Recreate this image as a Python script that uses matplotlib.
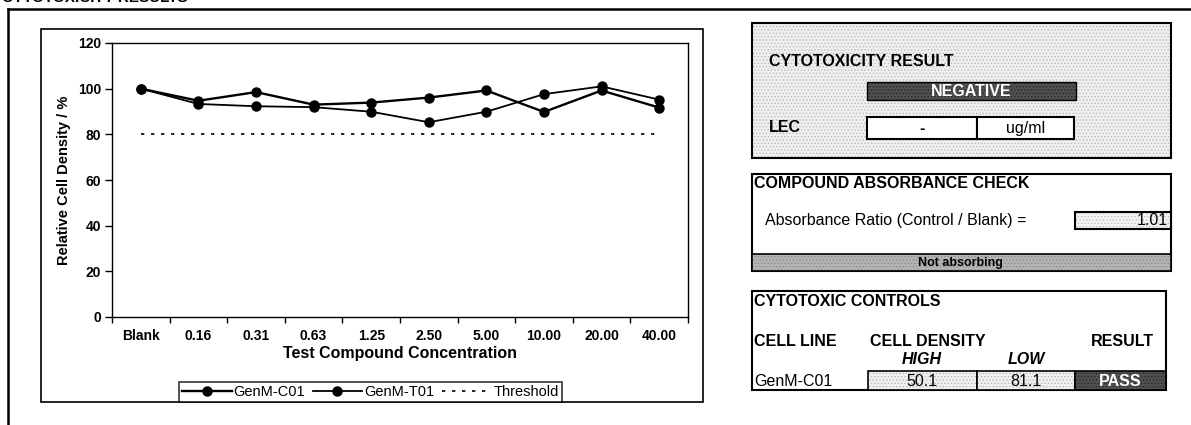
import numpy as np
import matplotlib
matplotlib.use("Agg")
import matplotlib.pyplot as plt
from matplotlib.patches import Rectangle
from matplotlib.lines import Line2D

plt.rcParams['font.family'] = ['Liberation Sans', 'DejaVu Sans']
plt.rcParams['hatch.linewidth'] = 0.6

# dose response data (relative cell density, %)
conc_labels = ['Blank', '0.16', '0.31', '0.63', '1.25', '2.50',
               '5.00', '10.00', '20.00', '40.00']
genm_c01 = [100, 94.7, 98.5, 93.0, 93.9, 96.1, 99.2, 89.8, 99.2, 91.7]
genm_t01 = [100, 93.3, 92.3, 91.9, 89.9, 85.3, 89.9, 97.6, 101.0, 95.2]
threshold = [80] * len(conc_labels)

# report fields
result_call = 'NEGATIVE'
lec_value = '-'
lec_unit = 'ug/ml'
abs_ratio = 1.01
abs_call = 'Not absorbing'
control_line = 'GenM-C01'
control_high = 50.1
control_low = 81.1
control_call = 'PASS'

W, H = 1191, 425
fig = plt.figure(figsize=(W / 100, H / 100), dpi=100)


def fx(x):
    return x / W


def fy(y):
    return 1 - y / H


def box(x0, y0, x1, y1, face='white', dots=None, lw=1.2, edge='black'):
    # stippled cells are a flat tone plus a dot hatch
    xy, w, h = (fx(x0), fy(y1)), fx(x1 - x0), (y1 - y0) / H
    if face:
        fig.patches.append(Rectangle(xy, w, h, transform=fig.transFigure,
                                     facecolor=face, edgecolor='none', lw=0))
    if dots:
        fig.patches.append(Rectangle(xy, w, h, transform=fig.transFigure,
                                     fill=False, hatch='.....', edgecolor=dots, lw=0))
    if lw:
        fig.patches.append(Rectangle(xy, w, h, transform=fig.transFigure,
                                     fill=False, edgecolor=edge, lw=lw))


def txt(x, y, s, ha='left', size=11.5, weight='normal', color='black', style='normal'):
    fig.text(fx(x), fy(y), s, ha=ha, va='center', fontsize=size,
             fontweight=weight, color=color, fontstyle=style)


# page frame and section title
fig.add_artist(Line2D([fx(8), fx(8)], [fy(9), 0], color='black', lw=1.8))
fig.add_artist(Line2D([fx(8), 1], [fy(9), fy(9)], color='black', lw=1.8))
txt(2, -2, 'CYTOTOXICITY RESULTS', size=11, weight='bold')

# chart area border
box(41, 29, 703, 402, face=None, lw=1.2)

ax = fig.add_axes([fx(112), fy(317), fx(688 - 112), (317 - 43) / H])
x = np.arange(len(conc_labels))
ax.plot(x, genm_c01, color='black', lw=1.7, marker='o', ms=6.5, label='GenM-C01')
ax.plot(x, genm_t01, color='black', lw=1.3, marker='o', ms=6.5, label='GenM-T01')
ax.plot(x, threshold, color='black', lw=1.2, ls=(0, (2, 4)), label='Threshold')

ax.set_xlim(-0.5, len(conc_labels) - 0.5)
ax.set_ylim(0, 120)
ax.set_yticks(np.arange(0, 121, 20))
ax.set_xticks(np.arange(-0.5, len(conc_labels)), labels=[])
ax.set_xticks(x, labels=conc_labels, minor=True)
ax.tick_params(axis='x', which='major', direction='out', length=4, width=1)
ax.tick_params(axis='x', which='minor', length=0, pad=9)
ax.tick_params(axis='y', direction='out', length=5, width=1, pad=3)
for lab in ax.get_xticklabels(minor=True) + ax.get_yticklabels():
    lab.set_fontsize(10)
    lab.set_fontweight('bold')
for sp in ax.spines.values():
    sp.set_linewidth(1)
ax.set_xlabel('Test Compound Concentration', fontsize=11.5, fontweight='bold', labelpad=2)
ax.set_ylabel('Relative Cell Density / %', fontsize=10.5, fontweight='bold', labelpad=5)

leg = fig.legend(loc='lower left', bbox_to_anchor=(fx(179), fy(402)), ncol=3,
                 fontsize=10.5, frameon=True, fancybox=False, edgecolor='black',
                 handlelength=3.4, handletextpad=0.15, columnspacing=0.5,
                 borderpad=0.2, borderaxespad=0)
leg.get_frame().set_linewidth(1.2)

# cytotoxicity result panel
box(752, 23, 1171, 158, face='#f0f0f0', dots='#b8b8b8', lw=1.5)
txt(769, 61, 'CYTOTOXICITY RESULT', weight='bold')
box(867, 82, 1076, 100, face='#505050', dots='#2a2a2a', lw=1)
txt(971, 91, result_call, ha='center', weight='bold', color='white')
txt(769, 128, 'LEC', weight='bold')
box(867, 117, 977, 139, lw=1.5)
box(977, 117, 1074, 139, lw=1.5)
txt(922, 128, lec_value, ha='center', weight='bold')
txt(1026, 128, lec_unit, ha='center')

# absorbance check panel
box(752, 174, 1171, 271, lw=1.5)
txt(754, 184, 'COMPOUND ABSORBANCE CHECK', weight='bold')
txt(765, 220, 'Absorbance Ratio (Control / Blank) =')
box(1075, 212, 1171, 229, face='#f4f4f4', dots='#c0c0c0', lw=1.5)
txt(1168, 220.5, f'{abs_ratio:.2f}', ha='right')
box(752, 254, 1171, 271, face='#b4b4b4', dots='#8c8c8c', lw=1.2)
txt(960, 263, abs_call, ha='center', size=9, weight='bold')

# cytotoxic controls panel
box(752, 291, 1166, 390, lw=1.5)
txt(754, 302, 'CYTOTOXIC CONTROLS', weight='bold')
txt(754, 341, 'CELL LINE', weight='bold')
txt(928, 341, 'CELL DENSITY', ha='center', weight='bold')
txt(1122, 341, 'RESULT', ha='center', weight='bold')
txt(922, 360, 'HIGH', ha='center', weight='bold', style='italic')
txt(1026, 360, 'LOW', ha='center', weight='bold', style='italic')
txt(754, 381, control_line)
box(868, 371, 977, 390, face='#f0f0f0', dots='#b8b8b8', lw=1.2)
box(977, 371, 1075, 390, face='#f0f0f0', dots='#b8b8b8', lw=1.2)
box(1075, 371, 1166, 390, face='#505050', dots='#2a2a2a', lw=1.2)
txt(922, 381, f'{control_high:.1f}', ha='center')
txt(1026, 381, f'{control_low:.1f}', ha='center')
txt(1120, 381, control_call, ha='center', weight='bold', color='white')

fig.savefig('out.png', dpi=100)
